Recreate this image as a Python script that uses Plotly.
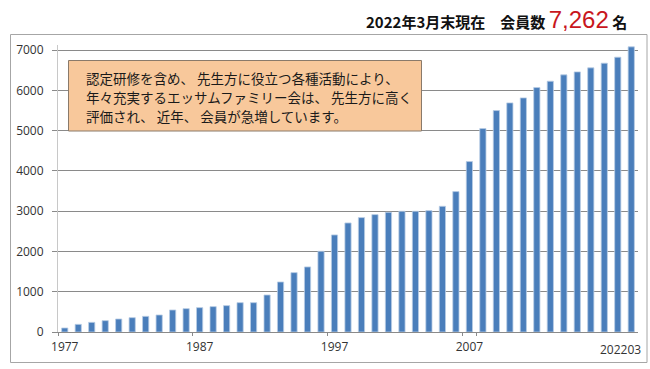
import plotly.graph_objects as go

# ---- data ----
categories = ["1977", "1978", "1979", "1980", "1981", "1982", "1983", "1984", "1985", "1986",
              "1987", "1988", "1989", "1990", "1991", "1992", "1993", "1994", "1995", "1996",
              "1997", "1998", "1999", "2000", "2001", "2002", "2003", "2004", "2005", "2006",
              "2007", "2008", "2009", "2010", "2011", "2012", "2013", "2014", "2015", "2016",
              "2017", "2018", "202203"]
members = [100, 190, 240, 282, 323, 356, 389, 423, 547, 580,
           605, 630, 655, 729, 729, 920, 1243, 1475, 1616, 2005,
           2411, 2709, 2842, 2916, 2974, 2999, 2999, 3016, 3123, 3488,
           4234, 5054, 5501, 5692, 5816, 6073, 6230, 6388, 6462, 6562,
           6678, 6827, 7084]
x_tick_labels = ["1977", "1987", "1997", "2007"]
last_label = "202203"
y_ticks = [0, 1000, 2000, 3000, 4000, 5000, 6000, 7000]
note_lines = ["認定研修を含め、 先生方に役立つ各種活動により、",
              "年々充実するエッサムファミリー会は、 先生方に高く",
              "評価され、 近年、 会員が急増しています。"]
title_prefix = "2022年3月末現在　会員数"
total_members = "7,262"
title_suffix = "名"

# ---- layout geometry (pixels) ----
W, H = 650, 369
ML, MR, MT, MB = 58, 12, 45, 37
PW, PH = W - ML - MR, H - MT - MB


def px(x):
    return (x - ML) / PW


def py(y):
    return (H - MB - y) / PH


fig = go.Figure()
fig.add_trace(go.Bar(
    x=categories, y=members,
    marker=dict(color="#4A7EBB", line=dict(color="#B9CDE5", width=0.8)),
    cliponaxis=False,
    hoverinfo="x+y",
))

shapes = [
    # outer frame
    dict(type="rect", xref="paper", yref="paper",
         x0=px(10.5), x1=px(647), y0=py(362.5), y1=py(34.5),
         line=dict(color="#A6A6A6", width=1), fillcolor="rgba(0,0,0,0)", layer="above"),
    # note box
    dict(type="rect", xref="paper", yref="paper",
         x0=px(68.5), x1=px(421.5), y0=py(131), y1=py(60.5),
         line=dict(color="#8A7A6A", width=1), fillcolor="#F8C89B", layer="above"),
]

annotations = []
for i, line in enumerate(note_lines):
    annotations.append(dict(
        xref="paper", yref="paper", x=px(84), y=py(78 + 19 * i),
        xanchor="left", yanchor="middle", showarrow=False, text=line,
        font=dict(family="Noto Sans CJK JP", size=13.5, color="#1a1a1a")))

annotations.append(dict(
    xref="paper", yref="paper", x=px(629), y=py(19), xanchor="right", yanchor="middle",
    showarrow=False,
    text=(f"<b>{title_prefix} </b>"
          f"<span style='color:#C8161D;font-size:24px;font-family:Liberation Sans'>{total_members}</span>"
          f"<b> {title_suffix}</b>"),
    font=dict(family="Noto Sans CJK JP", size=15, color="#111111")))

annotations.append(dict(
    xref="x", yref="paper", x=len(categories) - 1, y=py(339), xanchor="right", yanchor="top",
    xshift=12, showarrow=False, text=last_label,
    font=dict(family="Open Sans", size=12, color="#333333")))

fig.update_layout(
    width=W, height=H,
    margin=dict(l=ML, r=MR, t=MT, b=MB),
    paper_bgcolor="white", plot_bgcolor="white",
    showlegend=False,
    bargap=0.54,
    shapes=shapes,
    annotations=annotations,
    xaxis=dict(
        type="category", tickmode="array", tickvals=x_tick_labels, ticktext=x_tick_labels,
        ticks="outside", ticklen=3, tickcolor="#8A8A8A", tickson="boundaries", tickangle=0,
        ticklabelstandoff=4,
        showline=True, linecolor="#8A8A8A", linewidth=1, showgrid=False,
        tickfont=dict(family="Open Sans", size=12, color="#333333"),
        range=[-0.5, len(categories) - 0.5],
    ),
    yaxis=dict(
        range=[0, 7130], tickvals=y_ticks,
        ticks="outside", ticklen=5, tickcolor="#8A8A8A", ticklabelstandoff=6,
        showline=True, linecolor="#C8C8C8", linewidth=1,
        showgrid=True, gridcolor="#8A8A8A", gridwidth=1, zeroline=False,
        tickfont=dict(family="Open Sans", size=12, color="#333333"),
    ),
)

fig.write_html("out.html", config={"displayModeBar": False},
               post_script="document.body.style.margin='0';")
